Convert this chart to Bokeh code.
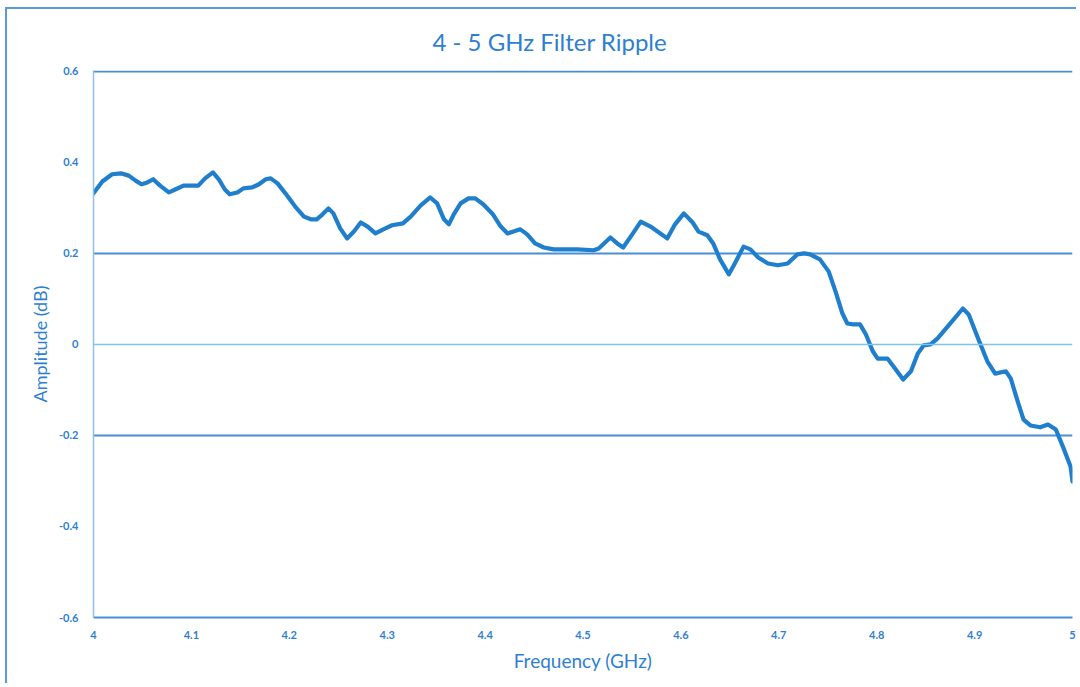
from bokeh.plotting import figure
from bokeh.models import FixedTicker, Range1d, Span
from bokeh.embed import file_html
from bokeh.resources import INLINE

freq = [4.000, 4.009, 4.019, 4.028, 4.036, 4.043, 4.049, 4.055, 4.061, 4.068,
        4.077, 4.084, 4.092, 4.101, 4.107, 4.114, 4.122, 4.128, 4.134, 4.139,
        4.147, 4.153, 4.162, 4.169, 4.176, 4.181, 4.188, 4.196, 4.206, 4.215,
        4.222, 4.228, 4.234, 4.240, 4.245, 4.252, 4.259, 4.266, 4.273, 4.280,
        4.288, 4.296, 4.305, 4.316, 4.324, 4.334, 4.344, 4.351, 4.358, 4.363,
        4.368, 4.375, 4.383, 4.390, 4.398, 4.408, 4.416, 4.423, 4.429, 4.436,
        4.443, 4.451, 4.460, 4.470, 4.485, 4.494, 4.511, 4.516, 4.528, 4.535,
        4.541, 4.551, 4.559, 4.569, 4.579, 4.586, 4.594, 4.603, 4.612, 4.618,
        4.627, 4.633, 4.640, 4.649, 4.656, 4.664, 4.671, 4.679, 4.689, 4.699,
        4.709, 4.719, 4.726, 4.732, 4.742, 4.751, 4.758, 4.765, 4.770, 4.776,
        4.783, 4.789, 4.796, 4.801, 4.811, 4.817, 4.827, 4.835, 4.842, 4.848,
        4.855, 4.862, 4.875, 4.888, 4.894, 4.904, 4.913, 4.921, 4.932, 4.937,
        4.944, 4.950, 4.957, 4.967, 4.975, 4.983, 4.991, 4.998, 5.000]
amp = [0.332, 0.358, 0.374, 0.376, 0.371, 0.360, 0.352, 0.356, 0.363, 0.349,
       0.334, 0.341, 0.349, 0.349, 0.349, 0.365, 0.378, 0.363, 0.341, 0.330,
       0.334, 0.343, 0.345, 0.352, 0.363, 0.365, 0.354, 0.332, 0.303, 0.281,
       0.275, 0.275, 0.286, 0.299, 0.288, 0.255, 0.233, 0.248, 0.268, 0.259,
       0.244, 0.253, 0.262, 0.266, 0.281, 0.305, 0.323, 0.310, 0.275, 0.264,
       0.286, 0.310, 0.321, 0.321, 0.308, 0.286, 0.259, 0.244, 0.248, 0.253,
       0.242, 0.222, 0.213, 0.209, 0.209, 0.209, 0.207, 0.211, 0.235, 0.222,
       0.213, 0.244, 0.270, 0.259, 0.244, 0.233, 0.264, 0.288, 0.268, 0.248,
       0.240, 0.222, 0.187, 0.154, 0.182, 0.215, 0.209, 0.191, 0.178, 0.174,
       0.178, 0.198, 0.200, 0.198, 0.187, 0.160, 0.116, 0.068, 0.046, 0.044,
       0.044, 0.022, -0.015, -0.031, -0.031, -0.048, -0.077, -0.059, -0.020, -0.002,
       0.000, 0.013, 0.046, 0.079, 0.066, 0.011, -0.037, -0.064, -0.059, -0.075,
       -0.125, -0.165, -0.178, -0.182, -0.176, -0.187, -0.229, -0.268, -0.301]

x_ticks = [4.0, 4.1, 4.2, 4.3, 4.4, 4.5, 4.6, 4.7, 4.8, 4.9, 5.0]
x_labels = ["4", "4.1", "4.2", "4.3", "4.4", "4.5", "4.6", "4.7", "4.8", "4.9", "5"]
y_ticks = [-0.6, -0.4, -0.2, 0.0, 0.2, 0.4, 0.6]
y_labels = ["-0.6", "-0.4", "-0.2", "0", "0.2", "0.4", "0.6"]
grid_ticks = [-0.6, -0.2, 0.2, 0.6]
zero_level = 0.0

BLUE_TEXT = "#2f7fd0"
GRID = "#4a8fd4"
ZERO = "#7cc4ea"
FONT = "Lato"

p = figure(frame_width=979, frame_height=547,
           min_border_left=86, min_border_top=60, min_border_right=4, min_border_bottom=66,
           x_range=Range1d(4.0, 5.0), y_range=Range1d(-0.6, 0.602),
           output_backend="svg", toolbar_location=None,
           title="4 - 5 GHz Filter Ripple")
p.outline_line_color = None
p.background_fill_color = "white"
p.border_fill_color = "white"

p.title.align = "left"
p.title.offset = 339
p.title.text_font = FONT
p.title.text_font_size = "24px"
p.title.text_font_style = "normal"
p.title.text_color = BLUE_TEXT
p.title.standoff = 30

p.xaxis.ticker = FixedTicker(ticks=x_ticks)
p.xaxis.major_label_overrides = {t: l for t, l in zip(x_ticks, x_labels)}
p.yaxis.ticker = FixedTicker(ticks=y_ticks)
p.yaxis.major_label_overrides = {t: l for t, l in zip(y_ticks, y_labels)}

for ax in (p.xaxis[0], p.yaxis[0]):
    ax.major_tick_line_color = None
    ax.minor_tick_line_color = None
    ax.major_label_text_font = FONT
    ax.major_label_text_font_size = "11px"
    ax.major_label_text_font_style = "bold"
    ax.major_label_text_color = BLUE_TEXT
    ax.axis_label_text_font = FONT
    ax.axis_label_text_font_style = "normal"
    ax.axis_label_text_color = BLUE_TEXT

p.xaxis.axis_label = "Frequency (GHz)"
p.yaxis.axis_label = "Amplitude (dB)"
p.xaxis.axis_label_text_font_size = "19px"
p.yaxis.axis_label_text_font_size = "18px"
p.xaxis.axis_line_color = GRID
p.xaxis.axis_line_width = 2
p.yaxis.axis_line_color = "#8ec0ee"
p.yaxis.axis_line_width = 1.5
p.xaxis.major_label_standoff = 7
p.yaxis.major_label_standoff = 9
p.xaxis.axis_label_standoff = 7
p.yaxis.axis_label_standoff = 5

p.xgrid.grid_line_color = None
p.ygrid.ticker = FixedTicker(ticks=grid_ticks)
p.ygrid.grid_line_color = GRID
p.ygrid.grid_line_width = 1.8
p.add_layout(Span(location=zero_level, dimension="width", line_color=ZERO, line_width=1.6))

p.line(freq, amp, line_color="#1f7fcc", line_width=4.2, line_join="round", line_cap="round")

p.styles = {"border-top": "2px solid #5a9ad8", "border-left": "2px solid #5a9ad8",
            "margin-top": "7px", "margin-left": "5px"}

open("out.html", "w").write(file_html(p, INLINE))
